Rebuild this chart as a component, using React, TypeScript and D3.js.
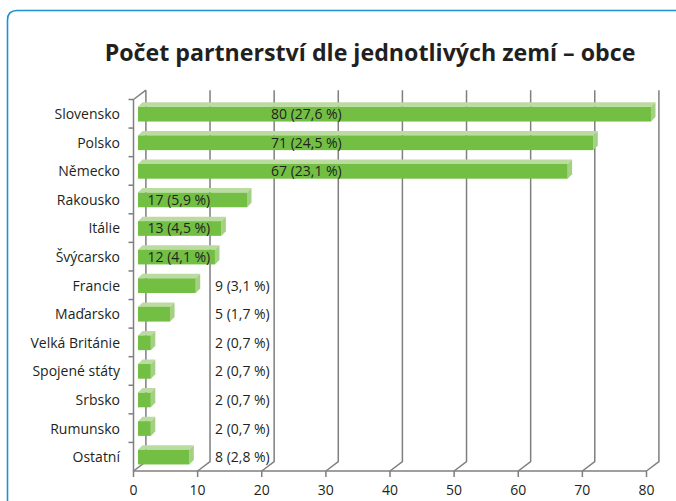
import React, { useEffect, useRef } from 'react';
import * as d3 from 'd3';

const countries = ['Slovensko', 'Polsko', 'Německo', 'Rakousko', 'Itálie', 'Švýcarsko', 'Francie', 'Maďarsko', 'Velká Británie', 'Spojené státy', 'Srbsko', 'Rumunsko', 'Ostatní'];
const counts = [80, 71, 67, 17, 13, 12, 9, 5, 2, 2, 2, 2, 8];
const labels = ['80 (27,6 %)', '71 (24,5 %)', '67 (23,1 %)', '17 (5,9 %)', '13 (4,5 %)', '12 (4,1 %)', '9 (3,1 %)', '5 (1,7 %)', '2 (0,7 %)', '2 (0,7 %)', '2 (0,7 %)', '2 (0,7 %)', '8 (2,8 %)'];
const xTicks = [0, 10, 20, 30, 40, 50, 60, 70, 80];

const FONT = '"Open Sans", sans-serif';
const AXIS = '#7f7f7f';
const TEXT = '#231f20';

const App = () => {
  const svgRef = useRef<SVGSVGElement>(null);

  useEffect(() => {
    document.body.style.margin = '0';
    const svg = d3.select(svgRef.current);
    svg.selectAll('*').remove();

    const x = d3.scaleLinear().domain([0, 80]).range([133.5, 646.5]);
    const y = d3.scaleBand().domain(countries).range([99.5, 471]);
    const backX = 12.4;
    const backY = 9.3;
    const depth = 4.5;
    const barH = 14.7;

    // frame
    svg.append('path')
      .attr('d', 'M7.5,501 V20 Q7.5,10.5 17,10.5 H676')
      .attr('fill', 'none')
      .attr('stroke', '#1f8fd6')
      .attr('stroke-width', 1.6);

    svg.append('text')
      .attr('x', 370)
      .attr('y', 61)
      .attr('text-anchor', 'middle')
      .attr('font-family', FONT)
      .attr('font-weight', 700)
      .attr('font-size', 23.2)
      .attr('fill', TEXT)
      .text('Počet partnerství dle jednotlivých zemí – obce');

    // gridlines with the 3D floor offset
    const axes = svg.append('g').attr('fill', 'none').attr('stroke', AXIS).attr('stroke-width', 1.5);
    xTicks.forEach(t => {
      axes.append('path').attr('d', `M${x(t)},477 V471 L${x(t) + backX},${471 - backY} V${99.5 - backY}`);
    });
    axes.append('path').attr('d', `M${x(0)},471 H${x(80)}`);
    axes.append('path').attr('d', `M${x(0) + backX},${99.5 - backY} L${x(0)},99.5 V471`);
    countries.forEach(c => {
      axes.append('line').attr('x1', x(0) - 5).attr('x2', x(0)).attr('y1', y(c)!).attr('y2', y(c)!);
    });

    const rows = svg.append('g').selectAll('g').data(countries).enter().append('g');
    const barTop = (i: number) => y(countries[i])! + y.bandwidth() / 2 - barH / 2 + 0.4;
    const x0 = x(0) + depth;
    const w = (i: number) => x(counts[i]) - x(0);

    rows.append('path')
      .attr('fill', '#bcdba0')
      .attr('d', (_, i) => `M${x0},${barTop(i)} l${depth},${-depth} h${w(i)} l${-depth},${depth} z`);
    rows.append('path')
      .attr('fill', '#a3d082')
      .attr('d', (_, i) => `M${x0 + w(i)},${barTop(i)} l${depth},${-depth} v${barH} l${-depth},${depth} z`);
    rows.append('rect')
      .attr('fill', '#72bf44')
      .attr('x', x0)
      .attr('y', (_, i) => barTop(i))
      .attr('width', (_, i) => w(i))
      .attr('height', barH);

    rows.append('text')
      .attr('x', 120)
      .attr('y', (_, i) => y(countries[i])! + y.bandwidth() / 2 + 5.4)
      .attr('text-anchor', 'end')
      .attr('font-family', FONT)
      .attr('font-size', 14)
      .attr('fill', TEXT)
      .text(d => d);

    // values sit on the next gridline that clears the bar
    rows.append('text')
      .attr('x', (_, i) => {
        if (counts[i] >= 67) return 271;
        if (counts[i] >= 12) return 147.5;
        return 215;
      })
      .attr('y', (_, i) => y(countries[i])! + y.bandwidth() / 2 + 5.4)
      .attr('font-family', FONT)
      .attr('font-size', 14)
      .attr('fill', TEXT)
      .text((_, i) => labels[i]);

    svg.append('g').selectAll('text').data(xTicks).enter().append('text')
      .attr('x', d => x(d))
      .attr('y', 495)
      .attr('text-anchor', 'middle')
      .attr('font-family', FONT)
      .attr('font-size', 14)
      .attr('fill', TEXT)
      .text(d => d);
  }, []);

  return <svg ref={svgRef} width={676} height={501} style={{ display: 'block', background: '#fff' }}></svg>;
};

export default App;
